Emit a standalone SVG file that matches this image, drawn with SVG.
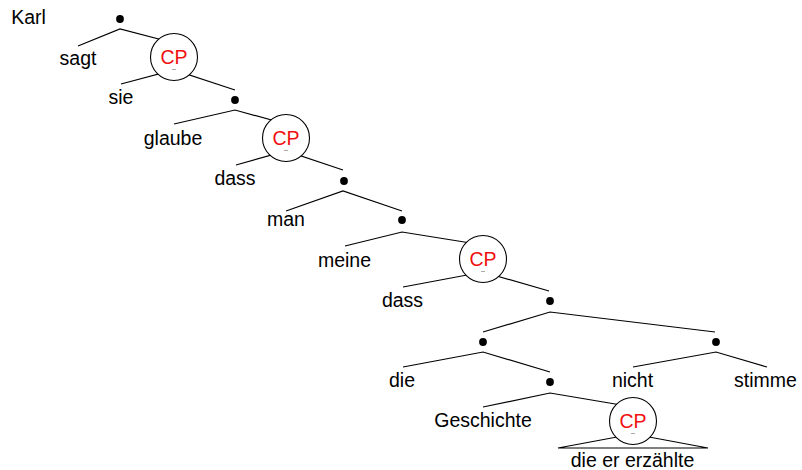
<svg xmlns="http://www.w3.org/2000/svg" width="802" height="470" viewBox="0 0 802 470">
  <style>
    .edge { stroke: #000; stroke-width: 1.2; fill: none; }
    .dot { fill: #000; }
    .cp { fill: #fff; stroke: #000; stroke-width: 1.1; }
    .cplabel { fill: #f0100f; font-family: "Liberation Sans", Arial, sans-serif; font-size: 19.5px; text-anchor: middle; }
    .leaf { fill: #000; font-family: "Liberation Sans", Arial, sans-serif; font-size: 19.5px; text-anchor: middle; }
    .mark { stroke: #aaa; stroke-width: 1; }
  </style>
  <rect width="802" height="470" fill="#fff"/>

  <!-- tree edges -->
  <g id="edges">
    <path class="edge" d="M78,46 L120,29 L174,43"/>
    <path class="edge" d="M121,84 L174,70 L235,90"/>
    <path class="edge" d="M174,124 L235,110 L286,124"/>
    <path class="edge" d="M236,165 L286,151 L343,170"/>
    <path class="edge" d="M286,211 L343,191 L402,211"/>
    <path class="edge" d="M345,246 L402,232 L483,245"/>
    <path class="edge" d="M403,287 L483,272 L549,291"/>
    <path class="edge" d="M483,332 L550,312 L715,332"/>
    <path class="edge" d="M403,367 L483,352 L550,372"/>
    <path class="edge" d="M633,367 L716,352 L767,367"/>
    <path class="edge" d="M483,407 L550,393 L633,407"/>
    <path class="edge" d="M558,448 L633,434 L708,448 Z"/>
  </g>

  <!-- nodes -->
  <g id="n-karl"><text class="leaf" x="28.5" y="24">Karl</text></g>
  <g id="n1"><circle class="dot" cx="120" cy="19" r="3.9"/></g>
  <g id="n-sagt"><text class="leaf" x="78" y="65">sagt</text></g>
  <g id="cp1">
    <circle class="cp" cx="174" cy="57" r="23.5"/>
    <text class="cplabel" x="174" y="64">CP</text>
    <line class="mark" x1="172" y1="69.5" x2="176" y2="69.5"/>
  </g>
  <g id="n-sie"><text class="leaf" x="121" y="104">sie</text></g>
  <g id="n2"><circle class="dot" cx="235" cy="100" r="3.9"/></g>
  <g id="n-glaube"><text class="leaf" x="173" y="145">glaube</text></g>
  <g id="cp2">
    <circle class="cp" cx="286" cy="138" r="23.5"/>
    <text class="cplabel" x="286" y="145">CP</text>
    <line class="mark" x1="284" y1="150.5" x2="288" y2="150.5"/>
  </g>
  <g id="n-dass1"><text class="leaf" x="235" y="185">dass</text></g>
  <g id="n3"><circle class="dot" cx="344" cy="181" r="3.9"/></g>
  <g id="n-man"><text class="leaf" x="286" y="226">man</text></g>
  <g id="n4"><circle class="dot" cx="402" cy="220" r="3.9"/></g>
  <g id="n-meine"><text class="leaf" x="344.5" y="267">meine</text></g>
  <g id="cp3">
    <circle class="cp" cx="483" cy="259" r="23.5"/>
    <text class="cplabel" x="483" y="266">CP</text>
    <line class="mark" x1="481" y1="271.5" x2="485" y2="271.5"/>
  </g>
  <g id="n-dass2"><text class="leaf" x="402.5" y="307">dass</text></g>
  <g id="n5"><circle class="dot" cx="550" cy="301" r="3.9"/></g>
  <g id="n6"><circle class="dot" cx="483" cy="342" r="3.9"/></g>
  <g id="n8"><circle class="dot" cx="716" cy="342" r="3.9"/></g>
  <g id="n-die"><text class="leaf" x="402" y="387">die</text></g>
  <g id="n7"><circle class="dot" cx="550" cy="382" r="3.9"/></g>
  <g id="n-nicht"><text class="leaf" x="632.5" y="387">nicht</text></g>
  <g id="n-stimme"><text class="leaf" x="765.5" y="387">stimme</text></g>
  <g id="n-geschichte"><text class="leaf" x="483" y="427">Geschichte</text></g>
  <g id="cp4">
    <circle class="cp" cx="633" cy="421" r="23.5"/>
    <text class="cplabel" x="633" y="428">CP</text>
    <line class="mark" x1="631" y1="433.5" x2="635" y2="433.5"/>
  </g>
  <g id="n-relclause"><text class="leaf" x="632.5" y="467">die er erzählte</text></g>
</svg>
